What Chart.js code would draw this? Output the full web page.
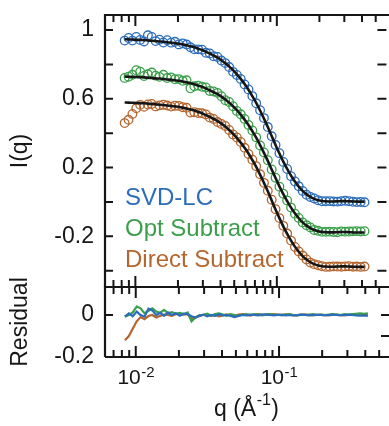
<!DOCTYPE html>
<html>
<head>
<meta charset="utf-8">
<script src="https://cdn.jsdelivr.net/npm/chart.js@4.4.0/dist/chart.umd.min.js"></script>
<style>
  html, body { margin: 0; padding: 0; background: #fff; overflow: hidden; width: 389px; height: 426px; }
  #wrap { position: relative; width: 392px; height: 426px; }
  canvas { position: absolute; left: 0; top: 0; }
</style>
</head>
<body>
<div id="wrap">
  <canvas id="topChart" width="392" height="426"></canvas>
  <canvas id="botChart" width="392" height="426"></canvas>
</div>
<script>
// ---------------- data ----------------
const seriesNames = ['SVD-LC', 'Opt Subtract', 'Direct Subtract'];

const qValues = [0.0084, 0.00895, 0.00953, 0.01015, 0.01081, 0.01151, 0.01226, 0.01305, 0.0139, 0.01481,
  0.01577, 0.01679, 0.01788, 0.01905, 0.02029, 0.0216, 0.02301, 0.0245, 0.0261, 0.02779,
  0.0296, 0.03152, 0.03357, 0.03575, 0.03808, 0.04055, 0.04319, 0.046, 0.04899, 0.05217,
  0.05556, 0.05917, 0.06302, 0.06712, 0.07148, 0.07612, 0.08107, 0.08634, 0.09195, 0.09793,
  0.1043, 0.1111, 0.1183, 0.126, 0.1342, 0.1429, 0.1522, 0.1621, 0.1726, 0.1838,
  0.1958, 0.2085, 0.2221, 0.2365, 0.2519, 0.2682, 0.2857, 0.3042, 0.324, 0.3451,
  0.3675, 0.3914, 0.4168];

const svdData = [0.939, 0.954, 0.939, 0.960, 0.943, 0.934, 0.970, 0.960, 0.936, 0.944,
  0.928, 0.941, 0.927, 0.932, 0.917, 0.923, 0.916, 0.900, 0.888, 0.888,
  0.886, 0.868, 0.864, 0.848, 0.844, 0.823, 0.808, 0.785, 0.757, 0.739,
  0.716, 0.684, 0.655, 0.616, 0.574, 0.534, 0.488, 0.436, 0.382, 0.332,
  0.284, 0.233, 0.192, 0.150, 0.119, 0.091, 0.064, 0.042, 0.029, 0.020,
  0.010, 0.004, 0.004, 0.005, 0.003, 0.002, 0.005, 0.007, 0.004, 0.001,
  -0.001, 0.000, -0.002];
const svdFit = [0.947, 0.946, 0.945, 0.944, 0.943, 0.942, 0.940, 0.938, 0.936, 0.934,
  0.932, 0.929, 0.927, 0.924, 0.921, 0.917, 0.912, 0.906, 0.900, 0.892,
  0.884, 0.874, 0.864, 0.852, 0.840, 0.825, 0.808, 0.789, 0.767, 0.743,
  0.716, 0.686, 0.653, 0.616, 0.576, 0.532, 0.485, 0.436, 0.384, 0.332,
  0.282, 0.235, 0.192, 0.153, 0.119, 0.089, 0.064, 0.044, 0.029, 0.018,
  0.010, 0.006, 0.004, 0.003, 0.003, 0.004, 0.005, 0.005, 0.004, 0.003,
  0.002, 0.002, 0.002];
const svdResidual = [-0.008, 0.008, -0.006, 0.016, 0.000, -0.008, 0.030, 0.022, 0.000, 0.010,
  -0.004, 0.012, 0.000, 0.008, -0.004, 0.006, 0.004, -0.006, -0.012, -0.004,
  0.002, -0.006, 0.000, -0.004, 0.004, -0.002, 0.000, -0.004, -0.010, -0.004,
  0.000, -0.002, 0.002, 0.000, -0.002, 0.002, 0.003, 0.000, -0.002, 0.000,
  0.002, -0.002, 0.000, -0.003, 0.000, 0.002, 0.000, -0.002, 0.000, 0.002,
  0.000, -0.002, 0.000, 0.002, 0.000, -0.002, 0.000, 0.002, 0.000, -0.002,
  -0.003, -0.002, -0.004];

const optData = [0.722, 0.729, 0.740, 0.767, 0.758, 0.733, 0.743, 0.753, 0.735, 0.728,
  0.740, 0.721, 0.725, 0.714, 0.715, 0.705, 0.708, 0.661, 0.673, 0.677,
  0.670, 0.666, 0.646, 0.643, 0.635, 0.615, 0.592, 0.582, 0.557, 0.530,
  0.510, 0.483, 0.448, 0.416, 0.376, 0.329, 0.288, 0.243, 0.189, 0.141,
  0.089, 0.048, 0.009, -0.033, -0.068, -0.093, -0.119, -0.136, -0.148, -0.163,
  -0.168, -0.174, -0.174, -0.173, -0.175, -0.176, -0.171, -0.173, -0.172, -0.171,
  -0.170, -0.172, -0.170];
const optFit = [0.730, 0.729, 0.728, 0.727, 0.726, 0.725, 0.723, 0.721, 0.719, 0.718,
  0.716, 0.713, 0.711, 0.708, 0.705, 0.701, 0.696, 0.691, 0.685, 0.677,
  0.670, 0.660, 0.650, 0.639, 0.627, 0.613, 0.596, 0.578, 0.557, 0.534,
  0.508, 0.479, 0.448, 0.412, 0.374, 0.331, 0.286, 0.239, 0.189, 0.139,
  0.091, 0.046, 0.005, -0.033, -0.066, -0.095, -0.119, -0.138, -0.152, -0.163,
  -0.170, -0.174, -0.176, -0.177, -0.177, -0.176, -0.175, -0.175, -0.176, -0.177,
  -0.178, -0.178, -0.178];
const optResidual = [-0.008, 0.000, 0.012, 0.040, 0.032, 0.008, 0.020, 0.032, 0.016, 0.010,
  0.024, 0.008, 0.014, 0.006, 0.010, 0.004, 0.012, -0.030, -0.012, 0.000,
  0.000, 0.006, -0.004, 0.004, 0.008, 0.002, -0.004, 0.004, 0.000, -0.004,
  0.002, 0.004, 0.000, 0.004, 0.002, -0.002, 0.002, 0.004, 0.000, 0.002,
  -0.002, 0.002, 0.004, 0.000, -0.002, 0.002, 0.000, 0.002, 0.004, 0.000,
  0.002, 0.000, 0.002, 0.004, 0.002, 0.000, 0.004, 0.002, 0.004, 0.006,
  0.008, 0.006, 0.008];

const directData = [0.459, 0.478, 0.512, 0.546, 0.565, 0.554, 0.567, 0.570, 0.556, 0.562,
  0.566, 0.561, 0.555, 0.560, 0.559, 0.551, 0.548, 0.520, 0.522, 0.518,
  0.516, 0.509, 0.491, 0.483, 0.465, 0.454, 0.442, 0.419, 0.393, 0.375,
  0.349, 0.315, 0.279, 0.246, 0.208, 0.161, 0.111, 0.065, 0.013, -0.042,
  -0.094, -0.139, -0.184, -0.225, -0.262, -0.288, -0.312, -0.335, -0.353, -0.362,
  -0.368, -0.374, -0.378, -0.377, -0.375, -0.376, -0.377, -0.375, -0.374, -0.377,
  -0.376, -0.378, -0.376];
const directFit = [0.579, 0.578, 0.577, 0.576, 0.575, 0.574, 0.572, 0.570, 0.568, 0.566,
  0.564, 0.561, 0.559, 0.556, 0.553, 0.549, 0.544, 0.538, 0.532, 0.524,
  0.516, 0.505, 0.495, 0.483, 0.471, 0.456, 0.439, 0.419, 0.397, 0.373,
  0.345, 0.315, 0.282, 0.244, 0.204, 0.159, 0.111, 0.062, 0.009, -0.044,
  -0.094, -0.142, -0.186, -0.225, -0.260, -0.290, -0.315, -0.335, -0.351, -0.362,
  -0.370, -0.374, -0.376, -0.377, -0.377, -0.376, -0.375, -0.375, -0.376, -0.377,
  -0.378, -0.378, -0.378];
const directResidual = [-0.120, -0.100, -0.065, -0.030, -0.010, -0.020, -0.005, 0.000, -0.012, -0.004,
  0.002, 0.000, -0.004, 0.004, 0.006, 0.002, 0.004, -0.018, -0.010, -0.006,
  0.000, 0.004, -0.004, 0.000, -0.006, -0.002, 0.003, 0.000, -0.004, 0.002,
  0.004, 0.000, -0.003, 0.002, 0.004, 0.002, 0.000, 0.003, 0.004, 0.002,
  0.000, 0.003, 0.002, 0.000, -0.002, 0.002, 0.003, 0.000, -0.002, 0.000,
  0.002, 0.000, -0.002, 0.000, 0.002, 0.000, -0.002, 0.000, 0.002, 0.000,
  0.002, 0.000, 0.002];

// tick values / labels
const qMajorTicks = [0.01, 0.1];
const qMinorTicks = [0.007, 0.008, 0.009, 0.02, 0.03, 0.04, 0.05, 0.06, 0.07, 0.08, 0.09, 0.2, 0.3, 0.4, 0.5];
const intensityTicks = [1, 0.8, 0.6, 0.4, 0.2, 0, -0.2, -0.4];
const intensityTickLabels = ['1', '', '0.6', '', '0.2', '', '-0.2', ''];
const residualTicks = [0, -0.2];
const residualTickLabels = ['0', '-0.2'];
const residualRightTicks = [0, -0.1];
const xTitle = ['q (Å', '-1', ')'];   // base text, superscript, closing text

// ---------------- styling ----------------
const FONT = "'Liberation Sans', Arial, Helvetica, sans-serif";
const colors = ['#2c6dbb', '#3b9f4a', '#b4662f'];
const INK = '#161616';
const qMin = 0.0061, qMax = 0.595;

const pts = (ys) => qValues.map((q, i) => ({ x: q, y: ys[i] }));

const framePlugin = {
  id: 'frame',
  afterDraw(chart, args, opts) {
    const { ctx, chartArea: a, scales } = chart;
    const xs = scales.x, ys = scales.y;
    ctx.save();
    ctx.strokeStyle = INK;
    ctx.lineWidth = 2.2;
    ctx.beginPath();
    ctx.moveTo(a.left, a.bottom); ctx.lineTo(a.left, a.top); ctx.lineTo(a.right + 4, a.top);
    ctx.moveTo(a.left, a.bottom); ctx.lineTo(a.right + 4, a.bottom);
    ctx.stroke();
    ctx.lineWidth = 2;
    ctx.beginPath();
    const t = (x1, y1, x2, y2) => { ctx.moveTo(x1, y1); ctx.lineTo(x2, y2); };
    const xTick = (v, len) => {
      const p = xs.getPixelForValue(v);
      if (p < a.left + 1 || p > a.right - 1) return;
      t(p, a.top, p, a.top + len);
      t(p, a.bottom, p, a.bottom - len);
    };
    qMinorTicks.forEach(v => xTick(v, 7));
    qMajorTicks.forEach(v => xTick(v, 11));
    opts.leftTicks.forEach(v => { const p = ys.getPixelForValue(v); t(a.left, p, a.left + 8, p); });
    opts.rightTicks.forEach(v => { const p = ys.getPixelForValue(v); t(a.right, p, a.right - 9, p); });
    ctx.stroke();

    if (opts.legend) {
      ctx.font = '24px ' + FONT;
      ctx.textAlign = 'left';
      ctx.textBaseline = 'alphabetic';
      seriesNames.forEach((name, i) => {
        ctx.fillStyle = colors[i];
        ctx.fillText(name, 125, 205 + i * 31);
      });
    }
    if (opts.xLabels) {
      ctx.fillStyle = INK;
      ctx.textBaseline = 'alphabetic';
      ctx.textAlign = 'left';
      qMajorTicks.forEach(v => {
        const p = xs.getPixelForValue(v);
        const base = '10';
        const exp = String(Math.round(Math.log10(v)));
        ctx.font = '21px ' + FONT;
        const w1 = ctx.measureText(base).width;
        ctx.font = '15px ' + FONT;
        const w2 = ctx.measureText(exp).width;
        const x0 = p - (w1 + w2) / 2;
        ctx.font = '21px ' + FONT;
        ctx.fillText(base, x0, 384);
        ctx.font = '15px ' + FONT;
        ctx.fillText(exp, x0 + w1 + 0.5, 377);
      });
      // axis title with a real superscript
      ctx.font = '23px ' + FONT;
      const wa = ctx.measureText(xTitle[0]).width;
      const wc = ctx.measureText(xTitle[2]).width;
      ctx.font = '16px ' + FONT;
      const wb = ctx.measureText(xTitle[1]).width;
      const cx = (a.left + a.right) / 2 - 1;
      let x0 = cx - (wa + wb + wc + 1) / 2;
      ctx.font = '23px ' + FONT;
      ctx.fillText(xTitle[0], x0, 416);
      ctx.font = '16px ' + FONT;
      ctx.fillText(xTitle[1], x0 + wa + 0.5, 405);
      ctx.font = '23px ' + FONT;
      ctx.fillText(xTitle[2], x0 + wa + wb + 1, 416);
    }
    ctx.restore();
  }
};

const xScale = (show) => ({
  type: 'logarithmic',
  min: qMin,
  max: qMax,
  display: show,
  grid: { display: false, drawTicks: false },
  border: { display: false },
  ticks: { display: false },
  title: { display: false, text: xTitle.join('') },
  afterFit: (s) => { if (show) { s.height = 69; } s.paddingLeft = 0; s.paddingRight = 0; }
});

const yScale = (min, max, ticks, labels, title) => ({
  type: 'linear',
  min, max,
  position: 'left',
  grid: { display: false, drawTicks: false },
  border: { display: false },
  afterBuildTicks: (s) => { s.ticks = ticks.map(v => ({ value: v })); },
  ticks: {
    color: INK,
    font: { family: FONT, size: 23 },
    padding: 11,
    autoSkip: false,
    callback: (v, i) => labels[i]
  },
  title: {
    display: true,
    text: title,
    color: INK,
    font: { family: FONT, size: 23 },
    padding: { top: 7, bottom: 0 }
  },
  afterFit: (s) => { s.width = 105; s.paddingTop = 0; s.paddingBottom = 0; }
});

const common = {
  responsive: false,
  devicePixelRatio: 1,
  animation: false,
  events: [],
  plugins: { legend: { display: false }, tooltip: { enabled: false } }
};

new Chart(document.getElementById('topChart'), {
  type: 'line',
  data: {
    datasets: [
      { label: seriesNames[0] + ' fit', data: pts(svdFit), borderColor: INK, borderWidth: 2.6, pointRadius: 0, cubicInterpolationMode: 'monotone', fill: false },
      { label: seriesNames[1] + ' fit', data: pts(optFit), borderColor: INK, borderWidth: 2.6, pointRadius: 0, cubicInterpolationMode: 'monotone', fill: false },
      { label: seriesNames[2] + ' fit', data: pts(directFit), borderColor: INK, borderWidth: 2.6, pointRadius: 0, cubicInterpolationMode: 'monotone', fill: false },
      { label: seriesNames[0], data: pts(svdData), showLine: false, pointStyle: 'circle', pointRadius: 4.3, pointBorderWidth: 1.3, pointBorderColor: colors[0], pointBackgroundColor: 'rgba(0,0,0,0)', borderColor: colors[0] },
      { label: seriesNames[1], data: pts(optData), showLine: false, pointStyle: 'circle', pointRadius: 4.3, pointBorderWidth: 1.3, pointBorderColor: colors[1], pointBackgroundColor: 'rgba(0,0,0,0)', borderColor: colors[1] },
      { label: seriesNames[2], data: pts(directData), showLine: false, pointStyle: 'circle', pointRadius: 4.3, pointBorderWidth: 1.3, pointBorderColor: colors[2], pointBackgroundColor: 'rgba(0,0,0,0)', borderColor: colors[2] }
    ]
  },
  options: Object.assign({}, common, {
    layout: { padding: { left: 0, right: 2, top: 15, bottom: 139 } },
    scales: {
      x: xScale(false),
      y: yScale(-0.495, 1.088, intensityTicks, intensityTickLabels, 'I(q)')
    },
    plugins: Object.assign({}, common.plugins, {
      frame: { leftTicks: intensityTicks, rightTicks: intensityTicks, legend: true, xLabels: false }
    })
  }),
  plugins: [framePlugin]
});

new Chart(document.getElementById('botChart'), {
  type: 'line',
  data: {
    datasets: [
      { label: seriesNames[0] + ' residual', data: pts(svdResidual), borderColor: colors[0], borderWidth: 2.2, pointRadius: 0, tension: 0, fill: false },
      { label: seriesNames[1] + ' residual', data: pts(optResidual), borderColor: colors[1], borderWidth: 2.2, pointRadius: 0, tension: 0, fill: false },
      { label: seriesNames[2] + ' residual', data: pts(directResidual), borderColor: colors[2], borderWidth: 2.2, pointRadius: 0, tension: 0, fill: false }
    ]
  },
  options: Object.assign({}, common, {
    layout: { padding: { left: 0, right: 2, top: 287, bottom: 0 } },
    scales: {
      x: xScale(true),
      y: yScale(-0.2, 0.1333, residualTicks, residualTickLabels, 'Residual')
    },
    plugins: Object.assign({}, common.plugins, {
      frame: { leftTicks: residualTicks, rightTicks: residualRightTicks, legend: false, xLabels: true }
    })
  }),
  plugins: [framePlugin]
});
</script>
</body>
</html>
